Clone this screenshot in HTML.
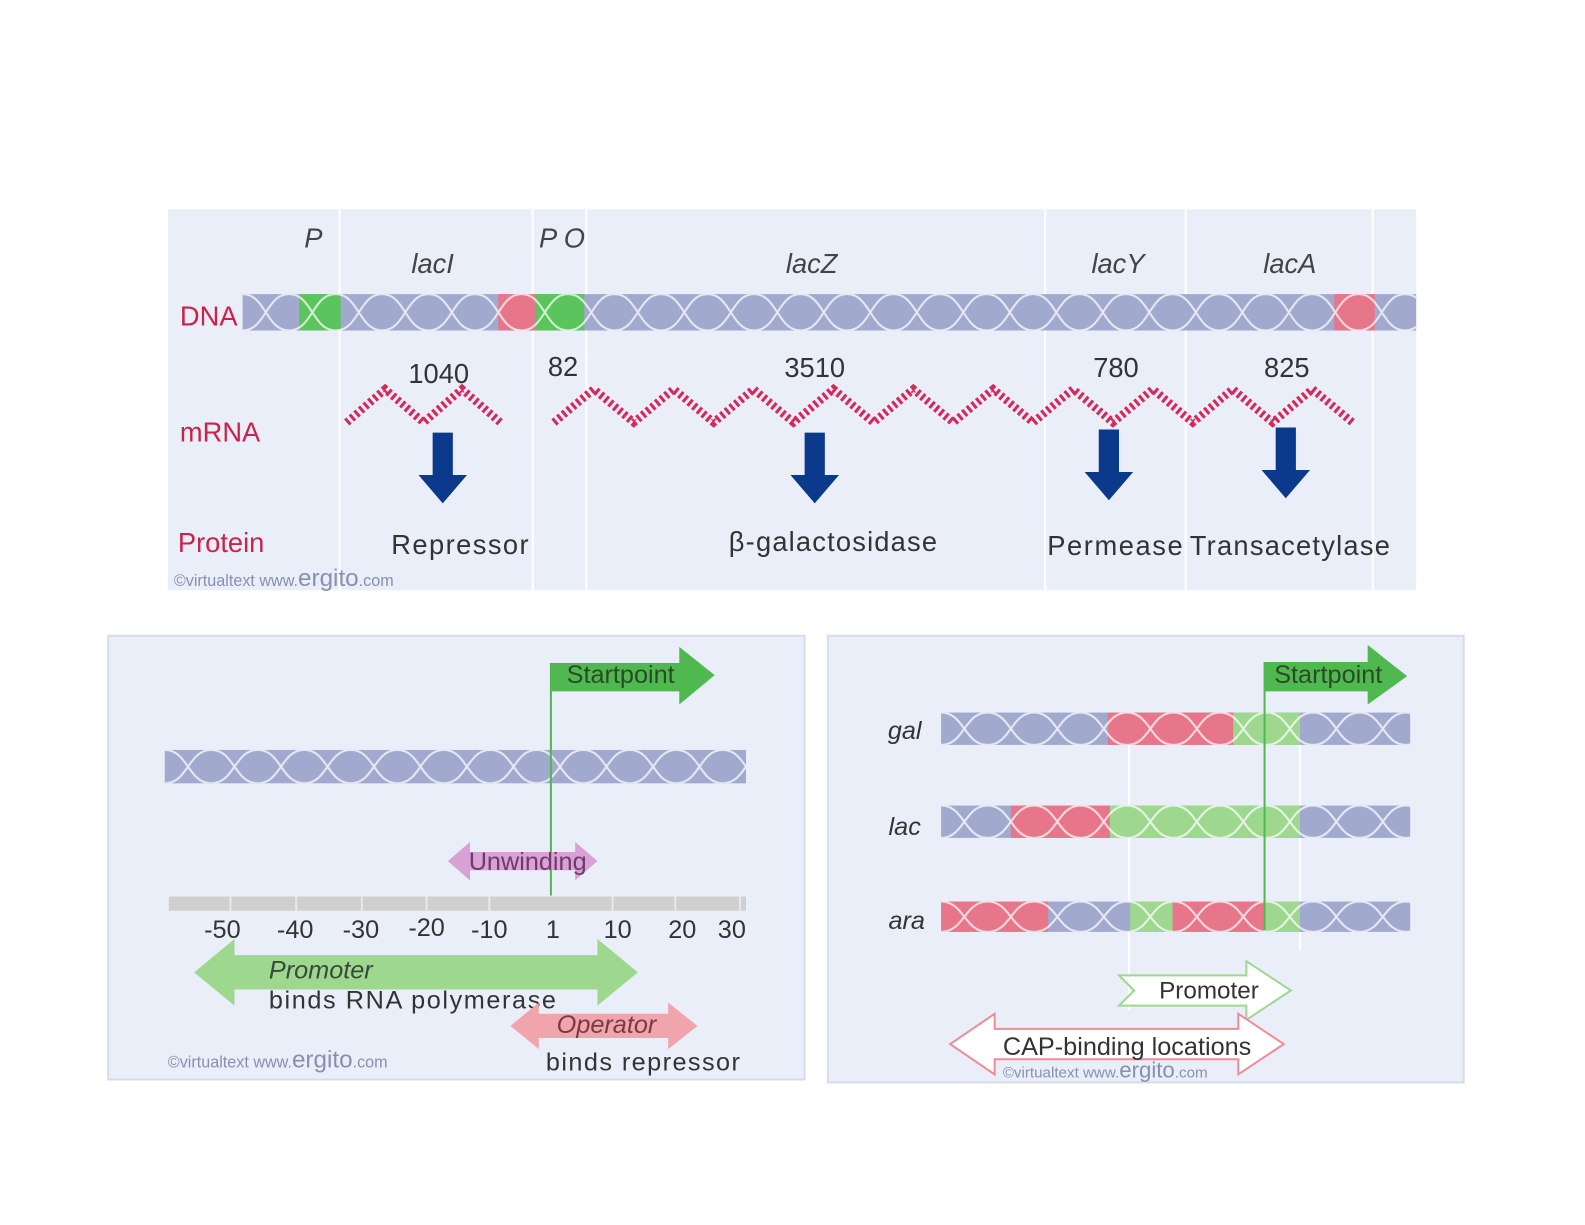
<!DOCTYPE html>
<html><head><meta charset="utf-8"><style>
html,body{margin:0;padding:0;background:#fff;}
svg{display:block;}
text{font-family:"Liberation Sans",Arial,sans-serif;}
</style></head><body>
<svg width="1585" height="1225" viewBox="0 0 1568 1212" preserveAspectRatio="none" xmlns="http://www.w3.org/2000/svg">
<defs>
<pattern id="hT" patternUnits="userSpaceOnUse" x="240" y="291" width="92" height="36">
<path d="M0,36 C23,36 23,0 46,0 C69,0 69,36 92,36 M0,0 C23,0 23,36 46,36 C69,36 69,0 92,0" fill="none" stroke="#fff" stroke-opacity=".75" stroke-width="2"/></pattern>
<pattern id="hB" patternUnits="userSpaceOnUse" x="163" y="742" width="92" height="33">
<path d="M0,33 C23,33 23,0 46,0 C69,0 69,33 92,33 M0,0 C23,0 23,33 46,33 C69,33 69,0 92,0" fill="none" stroke="#fff" stroke-opacity=".75" stroke-width="2"/></pattern>
<pattern id="hG" patternUnits="userSpaceOnUse" x="931" y="705" width="92" height="32">
<path d="M0,32 C23,32 23,0 46,0 C69,0 69,32 92,32 M0,0 C23,0 23,32 46,32 C69,32 69,0 92,0" fill="none" stroke="#fff" stroke-opacity=".75" stroke-width="2"/></pattern>
<pattern id="hL" patternUnits="userSpaceOnUse" x="931" y="797" width="92" height="32">
<path d="M0,32 C23,32 23,0 46,0 C69,0 69,32 92,32 M0,0 C23,0 23,32 46,32 C69,32 69,0 92,0" fill="none" stroke="#fff" stroke-opacity=".75" stroke-width="2"/></pattern>
<pattern id="hA" patternUnits="userSpaceOnUse" x="931" y="892" width="92" height="30">
<path d="M0,30 C23,30 23,0 46,0 C69,0 69,30 92,30 M0,0 C23,0 23,30 46,30 C69,30 69,0 92,0" fill="none" stroke="#fff" stroke-opacity=".75" stroke-width="2"/></pattern>
</defs>

<!-- TOP PANEL -->
<rect x="166" y="207" width="1235" height="377" fill="#eaeef8"/>
<g stroke="#fff" stroke-width="2">
<line x1="336" y1="207" x2="336" y2="584"/><line x1="527" y1="207" x2="527" y2="584"/>
<line x1="580" y1="207" x2="580" y2="584"/><line x1="1034" y1="207" x2="1034" y2="584"/>
<line x1="1173" y1="207" x2="1173" y2="584"/><line x1="1358" y1="207" x2="1358" y2="584"/>
</g>
<rect x="240" y="291" width="1161" height="36" fill="#a2a9ce"/>
<rect x="296" y="291" width="41" height="36" fill="#5cc45c"/>
<rect x="493" y="291" width="37" height="36" fill="#e8768a"/>
<rect x="530" y="291" width="48" height="36" fill="#5cc45c"/>
<rect x="1320" y="291" width="40" height="36" fill="#e8768a"/>
<rect x="240" y="291" width="1161" height="36" fill="url(#hT)"/>

<g font-size="27" font-style="italic" fill="#444" text-anchor="middle">
<text x="310" y="245">P</text><text x="428" y="270">lacI</text><text x="556" y="245">P O</text>
<text x="803" y="270">lacZ</text><text x="1106" y="270">lacY</text><text x="1276" y="270">lacA</text>
</g>
<g font-size="27" fill="#c8244a">
<text x="178" y="322">DNA</text><text x="178" y="437">mRNA</text><text x="176" y="546">Protein</text>
</g>
<g font-size="27" fill="#333" text-anchor="middle">
<text x="434" y="379">1040</text><text x="557" y="372">82</text><text x="806" y="373">3510</text>
<text x="1104" y="373">780</text><text x="1273" y="373">825</text>
</g>
<g fill="none" stroke="#d6285a" stroke-width="8" stroke-dasharray="3 3">
<polyline points="343,418 381,385 419,418 457,385 495,418"/>
<polyline points="548,418 587.5,385 627,418 666.5,385 706,418 745.5,385 785,418 824.5,385 864,418 903.5,385 943,418 982.5,385 1022,418 1061.5,385 1101,418 1140.5,385 1180,418 1219.5,385 1259,418 1298.5,385 1338,418"/>
</g>
<g fill="#0b3a8c">
<path d="M428,428 h20 v42 h14 l-24,28 l-24,-28 h14 z"/>
<path d="M796,428 h20 v42 h14 l-24,28 l-24,-28 h14 z"/>
<path d="M1087,425 h20 v42 h14 l-24,28 l-24,-28 h14 z"/>
<path d="M1262,423 h20 v42 h14 l-24,28 l-24,-28 h14 z"/>
</g>
<g font-size="27" fill="#333" text-anchor="middle">
<text x="455" y="548" textLength="136">Repressor</text><text x="824" y="545" textLength="206">β-galactosidase</text>
<text x="1103" y="549" textLength="134">Permease</text><text x="1276" y="549" textLength="198">Transacetylase</text>
</g>
<text x="172" y="580" font-size="16" fill="#8890b0">©virtualtext  www.<tspan font-size="24">ergito</tspan>.com</text>

<!-- BOTTOM LEFT -->
<rect x="107" y="629" width="689" height="439" fill="#eaeef8" stroke="#d8dcea" stroke-width="2"/>
<rect x="163" y="742" width="575" height="33" fill="#a2a9ce"/>
<rect x="163" y="742" width="575" height="33" fill="url(#hB)"/>
<path d="M545,656 h127 v-16 l35,28 l-35,29 v-13 h-127 z" fill="#4fb84f"/>
<text x="614" y="676" font-size="25" fill="#2a4a2a" text-anchor="middle">Startpoint</text>
<line x1="545" y1="656" x2="545" y2="886" stroke="#4fb84f" stroke-width="2"/>
<path d="M443,852 l22,-19 v10 h104 v-10 l22,19 l-22,19 v-10 h-104 v10 z" fill="#d8a2d4"/>
<text x="522" y="861" font-size="25" fill="#703a70" text-anchor="middle">Unwinding</text>
<rect x="167" y="887" width="571" height="14" fill="#cfcfcf"/>
<g stroke="#e8e8e8" stroke-width="2"><line x1="228" y1="887" x2="228" y2="901"/><line x1="293" y1="887" x2="293" y2="901"/><line x1="358" y1="887" x2="358" y2="901"/><line x1="422" y1="887" x2="422" y2="901"/><line x1="484" y1="887" x2="484" y2="901"/><line x1="606" y1="887" x2="606" y2="901"/><line x1="668" y1="887" x2="668" y2="901"/><line x1="732" y1="887" x2="732" y2="901"/></g>
<g font-size="25" fill="#333" text-anchor="middle">
<text x="220" y="928">-50</text><text x="292" y="928">-40</text><text x="357" y="928">-30</text><text x="422" y="926">-20</text>
<text x="484" y="928">-10</text><text x="547" y="928">1</text><text x="611" y="928">10</text><text x="675" y="928">20</text><text x="724" y="928">30</text>
</g>
<path d="M192,962 l40,-33 v16 h359 v-16 l40,33 l-40,33 v-16 h-359 v16 z" fill="#9ed88f"/>
<text x="266" y="968" font-size="25" font-style="italic" fill="#3a4a3a">Promoter</text>
<text x="266" y="998" font-size="25" fill="#333" textLength="284">binds RNA polymerase</text>
<path d="M505,1015 l28,-23 v11 h128 v-11 l29,23 l-29,23 v-11 h-128 v11 z" fill="#f0a4ac"/>
<text x="600" y="1022" font-size="25" font-style="italic" fill="#7a3a40" text-anchor="middle">Operator</text>
<text x="636" y="1059" font-size="25" fill="#333" text-anchor="middle" textLength="192">binds repressor</text>
<text x="166" y="1056" font-size="16" fill="#8890b0">©virtualtext  www.<tspan font-size="24">ergito</tspan>.com</text>

<!-- BOTTOM RIGHT -->
<rect x="819" y="629" width="629" height="442" fill="#eaeef8" stroke="#d8dcea" stroke-width="2"/>
<g stroke="#fff" stroke-width="2"><line x1="1117" y1="737" x2="1117" y2="1000"/><line x1="1286" y1="737" x2="1286" y2="940"/></g>
<rect x="931" y="705" width="464" height="32" fill="#a2a9ce"/>
<rect x="1096" y="705" width="124" height="32" fill="#e8768a"/>
<rect x="1220" y="705" width="66" height="32" fill="#9ed88f"/>
<rect x="931" y="705" width="464" height="32" fill="url(#hG)"/>
<rect x="931" y="797" width="464" height="32" fill="#a2a9ce"/>
<rect x="1000" y="797" width="98" height="32" fill="#e8768a"/>
<rect x="1098" y="797" width="188" height="32" fill="#9ed88f"/>
<rect x="931" y="797" width="464" height="32" fill="url(#hL)"/>
<rect x="931" y="892" width="464" height="30" fill="#a2a9ce"/>
<rect x="931" y="892" width="106" height="30" fill="#e8768a"/>
<rect x="1118" y="892" width="42" height="30" fill="#9ed88f"/>
<rect x="1160" y="892" width="90" height="30" fill="#e8768a"/>
<rect x="1250" y="892" width="36" height="30" fill="#9ed88f"/>
<rect x="931" y="892" width="464" height="30" fill="url(#hA)"/>
<path d="M1251,655 h102 v-17 l39,31 l-39,28 v-13 h-102 z" fill="#4fb84f"/>
<text x="1314" y="676" font-size="25" fill="#2a4a2a" text-anchor="middle">Startpoint</text>
<line x1="1251" y1="655" x2="1251" y2="920" stroke="#4fb84f" stroke-width="2"/>
<g font-size="25" font-style="italic" fill="#333" text-anchor="middle">
<text x="895" y="731">gal</text><text x="895" y="826">lac</text><text x="897" y="919">ara</text>
</g>
<path d="M1107,965 h126 v-14 l44,29 l-44,29 v-14 h-126 l15,-15 z" fill="#fff" stroke="#9ed88f" stroke-width="2"/>
<text x="1196" y="988" font-size="24" fill="#333" text-anchor="middle">Promoter</text>
<path d="M940,1033 l44,-30 v15 h241 v-15 l45,30 l-45,30 v-15 h-241 v15 z" fill="#fff" stroke="#f08c98" stroke-width="2"/>
<text x="1115" y="1044" font-size="25" fill="#333" text-anchor="middle">CAP-binding locations</text>
<text x="992" y="1066" font-size="15" fill="#8890b0">©virtualtext  www.<tspan font-size="22">ergito</tspan>.com</text>
</svg>
</body></html>
